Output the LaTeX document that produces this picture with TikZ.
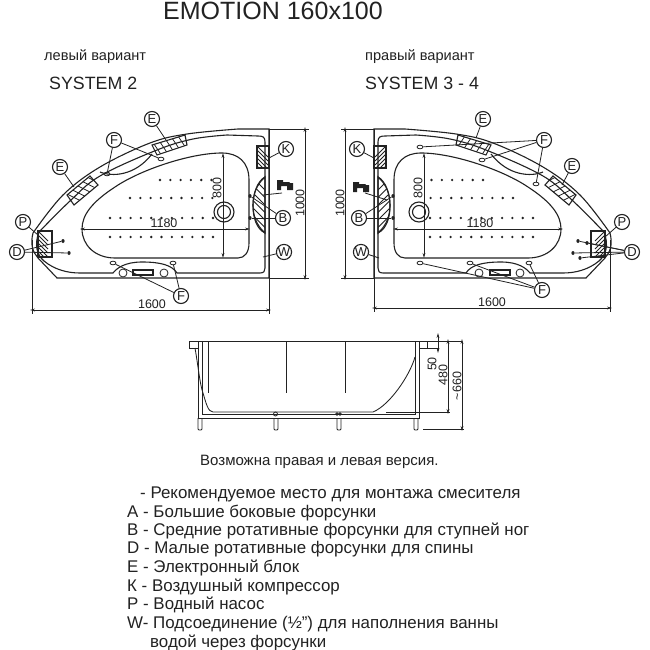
\documentclass[tikz,border=0pt]{standalone}
\usepackage{fontspec}
\setmainfont{Liberation Sans}
\usetikzlibrary{arrows.meta,shapes.geometric}
\definecolor{ink}{HTML}{222222}
\newcommand{\fs}[1]{\fontsize{#1}{#1}\selectfont}
\tikzset{
  ln/.style={draw=ink,line width=1.1pt},
  side/.style={draw=ink,line width=0.85pt},
  thin ln/.style={draw=ink,line width=0.8pt},
  dimline/.style={draw=ink,line width=0.9pt,{Stealth[length=5pt,width=2.8pt]}-{Stealth[length=5pt,width=2.8pt]}},
  ext/.style={draw=ink,line width=0.9pt},
  lab/.style={circle,draw=ink,line width=1.1pt,fill=white,minimum size=15pt,inner sep=0pt,text=ink,font=\fs{13}},
  oval/.style={ellipse,draw=ink,line width=0.8pt,minimum width=6pt,minimum height=3.6pt,inner sep=0pt},
  blob/.style={ellipse,fill=ink,minimum width=3.2pt,minimum height=4pt,inner sep=0pt},
  dimtext/.style={text=ink,font=\fs{12.5},inner sep=0pt},
  maintext/.style={text=ink,inner sep=0pt,anchor=base west},
  legend/.style={text=ink,inner sep=0pt,anchor=base west,font=\fs{16.9}},
  holedot/.style={circle,fill=ink,minimum size=2.6pt,inner sep=0pt},
  lead/.style={draw=ink,line width=0.8pt}
}
\newcommand{\hatchset}[8]{% clip path, half dx, half dy, x0, y0, stepx, stepy, n
  \begin{scope}\clip #1;
  \foreach \i in {0,...,#8}{\draw[thin ln] ({#4+\i*#6-#2},{#5+\i*#7-#3}) -- ({#4+\i*#6+#2},{#5+\i*#7+#3});}
  \end{scope}
  \draw[ln] #1;
}
\newcommand{\tubbody}{%
  \draw[ln] (269,278) -- (269,129) -- (238,129) -- plot[smooth,tension=.6] coordinates {(238,129)(187,134)(150,143)(100,167)(63,195)(33,233)} .. controls (30,245) and (33,252) .. (38,258) -- (57,278) -- (269,278);
  \draw[ln] (265,268) -- (265,142) .. controls (265,137) and (263,136) .. (258,136) -- (227,135) -- plot[smooth,tension=.6] coordinates {(227,135)(193,139)(157,150)(100,176)(70,201)(39,232)} .. controls (34,245) and (37,255) .. (44,261) .. controls (55,270) and (68,273) .. (80,273) -- (113,273) .. controls (117,268) and (125,262) .. (142,262) .. controls (160,262) and (172,265) .. (177,273) -- (260,273) .. controls (264,273) and (265,271) .. (265,268);
  \draw[ln] (249,243) -- (249,180) .. controls (249,162) and (238,153) .. (222,153) .. controls (190,153) and (140,170) .. (115,187) .. controls (92,202) and (82,215) .. (82,229) .. controls (82,245) and (95,258) .. (115,258) -- (238,258) .. controls (245,258) and (249,252) .. (249,243) -- cycle;
  \draw[ln] (100,172) .. controls (112,177) and (135,176) .. (152,154);
  \draw[ln] (224,212) circle (10); \draw[ln] (224,212) circle (6.5);
  \hatchset{(152,145)--(185,135)--(187,145)--(157,155)--cycle}{6}{9}{150}{149}{6}{-2}{6}
  \hatchset{(67,195)--(90,176)--(98,185)--(74,205)--cycle}{10}{5}{71}{196}{4.5}{-4.5}{6}
  \hatchset{(38,231)--(52,231)--(52,257)--(38,257)--cycle}{10}{10}{38}{231}{0}{4}{8}
  \hatchset{(257,146)--(269,146)--(269,168)--(257,168)--cycle}{10}{10}{258}{147}{0}{4}{6}
  \hatchset{(265,177) .. controls (256,185) and (253,195) .. (253,205) .. controls (253,215) and (256,225) .. (265,233) -- cycle}{10}{10}{255}{180}{0}{7.5}{7}
  \draw[ln] (265,177) .. controls (250,185) and (248,225) .. (265,233);
  \node[oval] at (123,273) [minimum width=8pt,minimum height=8pt,fill=white] {};
  \node[oval] at (164,273) [minimum width=8pt,minimum height=8pt,fill=white] {};
  \draw[ln] (133,270) rectangle (153,275);
}
\newcommand{\tapglyph}{%
  \fill[ink] (0,0) -- (6,0) -- (6,2) -- (12,2) -- (13,3) -- (16,3) -- (16,10) -- (10,10) -- (10,6) -- (4,6) -- (4,10) -- (0,10) -- cycle;
}
\newcommand{\dotrows}{%
  \foreach \i in {0,...,5}{\node[holedot] at ({160+\i*10.3},180) {};}
  \foreach \i in {0,...,8}{\node[holedot] at ({130+\i*10.3},198) {};}
  \foreach \i in {0,...,10}{\node[holedot] at ({110+\i*10.3},218) {};}
  \foreach \i in {0,...,10}{\node[holedot] at ({110+\i*10.3},237) {};}
}
\begin{document}
\begin{tikzpicture}[x=1pt,y=-1pt]
\useasboundingbox (0,0) rectangle (650,650);
\fill[white] (0,0) rectangle (650,650);
% headers
\node[maintext,font=\fs{25}] (title) at (163,20) {EMOTION 160x100};
\node[maintext,font=\fs{14.6}] (leftv) at (44,61) {левый вариант};
\node[maintext,font=\fs{17.8}] (lefts) at (49,90) {SYSTEM 2};
\node[maintext,font=\fs{14.6}] (rightv) at (365,61) {правый вариант};
\node[maintext,font=\fs{17.8}] (rights) at (365,90) {SYSTEM 3 - 4};
% plans
\tubbody \dotrows
\begin{scope}[shift={(643,0)},xscale=-1]
\tubbody \dotrows
\end{scope}
% left dims
\draw[ext] (269,129) -- (309,129);
\draw[ext] (269,278) -- (309,278);
\draw[ext] (269,129) -- (269,314);
\draw[ext] (32,240) -- (32,314);
\draw[dimline] (305,127) -- (305,280);
\draw[dimline] (30,310) -- (271,310);
\draw[dimline] (223,153) -- (223,258);
\draw[dimline] (80,229) -- (250,229);
\node[dimtext,rotate=90] (dl800) at (217,188) {800};
\node[dimtext] (dl1180) at (164,223) {1180};
\node[dimtext,rotate=90] (dl1000) at (300,203) {1000};
\node[dimtext] (dl1600) at (152,304) {1600};
% left labels
\node[lab] (Fa) at (114,140) {F};
\node[lab] (Ea) at (152,119) {E};
\node[lab] (Eb) at (60,167) {E};
\node[lab] (Pa) at (23,222) {P};
\node[lab] (Da) at (17,252) {D};
\node[lab] (Ka) at (286,149) {K};
\node[lab] (Ba) at (283,218) {B};
\node[lab] (Wa) at (284,252) {W};
\node[lab] (Fb) at (181,296) {F};
\node[oval] (o1) at (107,174) {};
\node[oval] (o2) at (161,159) {};
\node[oval] (o3) at (113,263) {};
\node[oval] (o4) at (173,263) {};
\node[blob] (j1) at (63,241) {};
\node[blob] (j2) at (69,253) {};
\node[blob] (j3) at (250,196) {};
\node[blob] (j4) at (250,218) {};
\coordinate (cE1) at (166,140);
\coordinate (cE2) at (74,187);
\coordinate (cP) at (38,235);
\coordinate (cK) at (269,158);
\coordinate (cW) at (263,257);
\coordinate (cTap) at (263,195);
\coordinate (tapL) at (282,193);
\draw[lead] (Fa) -- (o1); \draw[lead] (Fa) -- (o2);
\draw[lead] (Ea) -- (cE1); \draw[lead] (Eb) -- (cE2);
\draw[lead] (Pa) -- (cP); \draw[lead] (Da) -- (j1); \draw[lead] (Da) -- (j2);
\draw[lead] (Ka) -- (cK); \draw[lead] (Wa) -- (cW);
\draw[lead] (Ba) -- (j3); \draw[lead] (Ba) -- (j4);
\draw[lead] (Fb) -- (o3); \draw[lead] (Fb) -- (o4);
\draw[lead] (tapL) -- (cTap);
\begin{scope}[shift={(277,180)}] \tapglyph \end{scope}
% right dims
\draw[ext] (341,129) -- (374,129);
\draw[ext] (341,278) -- (374,278);
\draw[ext] (374,129) -- (374,312);
\draw[ext] (610,240) -- (610,312);
\draw[dimline] (345,127) -- (345,280);
\draw[dimline] (372,308) -- (612,308);
\draw[dimline] (424,153) -- (424,258);
\draw[dimline] (393,229) -- (563,229);
\node[dimtext,rotate=90] (dr800) at (418,188) {800};
\node[dimtext] (dr1180) at (480,223) {1180};
\node[dimtext,rotate=90] (dr1000) at (340,203) {1000};
\node[dimtext] (dr1600) at (492,302) {1600};
% right labels
\node[lab] (Fc) at (544,140) {F};
\node[lab] (Ec) at (483,119) {E};
\node[lab] (Ed) at (572,166) {E};
\node[lab] (Pb) at (622,222) {P};
\node[lab] (Db) at (632,252) {D};
\node[lab] (Kb) at (357,149) {K};
\node[lab] (Bb) at (359,218) {B};
\node[lab] (Wb) at (361,252) {W};
\node[lab] (Fd) at (542,290) {F};
\node[oval] (o5) at (420,147) {};
\node[oval] (o6) at (482,160) {};
\node[oval] (o7) at (536,184) {};
\node[oval] (o8) at (420,263) {};
\node[oval] (o9) at (470,263) {};
\node[oval] (o10) at (529,263) {};
\node[blob] (j5) at (578,241) {};
\node[blob] (j6) at (587,243) {};
\node[blob] (j7) at (573,253) {};
\node[blob] (j8) at (580,258) {};
\node[blob] (j9) at (393,196) {};
\node[blob] (j10) at (393,218) {};
\coordinate (cE3) at (476,138);
\coordinate (cE4) at (562,185);
\coordinate (cP2) at (605,237);
\coordinate (cK2) at (374,158);
\coordinate (cW2) at (379,258);
\coordinate (cTap2) at (387,200);
\coordinate (tapR) at (365,193);
\draw[lead] (Fc) -- (o5); \draw[lead] (Fc) -- (o6); \draw[lead] (Fc) -- (o7);
\draw[lead] (Ec) -- (cE3); \draw[lead] (Ed) -- (cE4);
\draw[lead] (Pb) -- (cP2);
\draw[lead] (Db) -- (j5); \draw[lead] (Db) -- (j6); \draw[lead] (Db) -- (j7); \draw[lead] (Db) -- (j8);
\draw[lead] (Kb) -- (cK2); \draw[lead] (Wb) -- (cW2);
\draw[lead] (Bb) -- (j9); \draw[lead] (Bb) -- (j10);
\draw[lead] (Fd) -- (o8); \draw[lead] (Fd) -- (o9); \draw[lead] (Fd) -- (o10);
\draw[lead] (tapR) -- (cTap2);
\begin{scope}[shift={(353,182)}] \tapglyph \end{scope}
% side view
\draw[side] (189,341) -- (462,341);
\draw[side] (189,341) rectangle (198,348);
\draw[side] (419,348) -- (438,348);
\draw[side] (427,341) -- (427,348);
\draw[side] (198,341) -- (198,418) -- (419,418) -- (419,341);
\draw[side] (202,341) -- (202,414) -- (415,414) -- (415,341);
\draw[side] (195,348) .. controls (198,365) and (200,385) .. (203,393) .. controls (206,403) and (208,412) .. (213,412) -- (373,412) .. controls (390,405) and (410,375) .. (415,357);
\draw[side] (208,341) -- (208,393);
\draw[side] (286,341) -- (286,393);
\draw[side] (345,341) -- (345,393);
\foreach \x in {198,274,337,414}{\draw[side,rounded corners=1pt] (\x,418) -- (\x,430) -- (\x+4,430) -- (\x+4,418);}
\draw[thin ln] (275.5,414) circle (2);
\draw[thin ln] (337,414) circle (1.3); \draw[thin ln] (340,414) circle (1.3);
\draw[ext] (386,412) -- (450,412);
\draw[ext] (423,429) -- (464,429);
\draw[dimline] (438,333) -- (438,353);
\draw[dimline] (448,339) -- (448,414);
\draw[dimline] (462,339) -- (462,431);
\node[dimtext,rotate=90] (d50) at (432,364) {50};
\node[dimtext,rotate=90] (d480) at (443,375) {480};
\node[dimtext,rotate=90] (d660) at (457,386) {\textasciitilde660};
% legend
\node[maintext,font=\fs{15}] (note) at (200,465) {Возможна правая и левая версия.};
\node[legend] (l0) at (140,498) {- Рекомендуемое место для монтажа смесителя};
\node[legend] (l1) at (127,517) {A - Большие боковые форсунки};
\node[legend] (l2) at (127,535) {B - Средние ротативные форсунки для ступней ног};
\node[legend] (l3) at (127,553) {D - Малые ротативные форсунки для спины};
\node[legend] (l4) at (127,572) {E - Электронный блок};
\node[legend] (l5) at (127,591) {К - Воздушный компрессор};
\node[legend] (l6) at (127,609) {P - Водный насос};
\node[legend] (l7) at (127,628) {W- Подсоединение (½”) для наполнения ванны};
\node[legend] (l8) at (150,647) {водой через форсунки};
\end{tikzpicture}
\end{document}
